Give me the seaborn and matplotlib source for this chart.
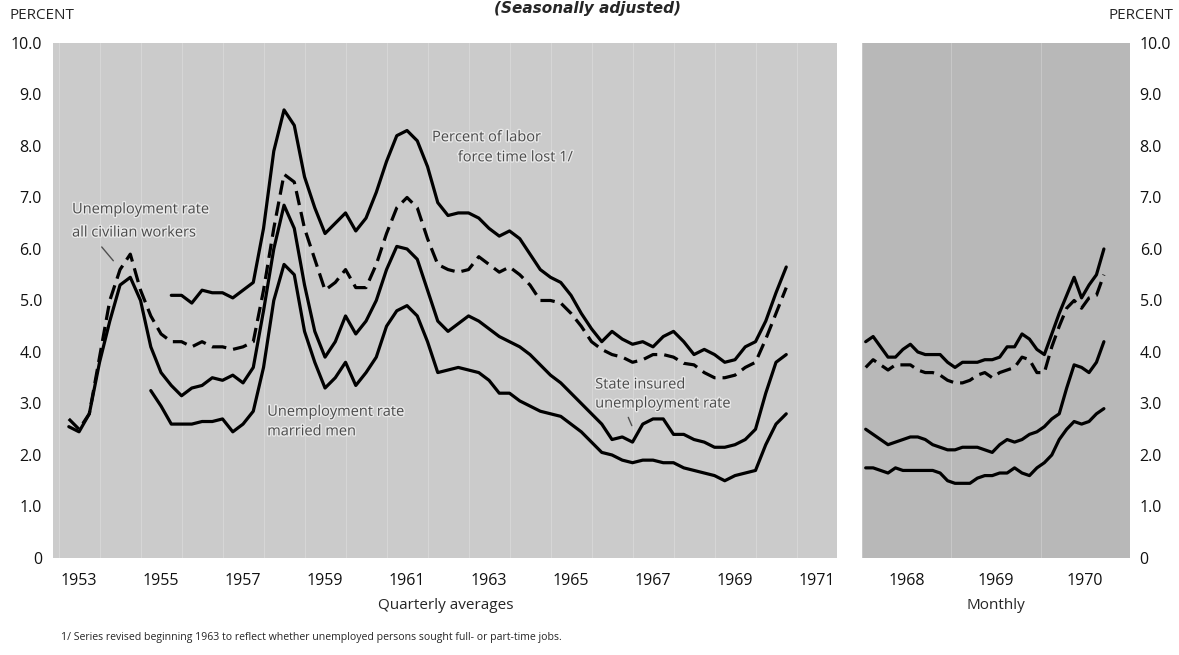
import numpy as np
import pandas as pd
import matplotlib
matplotlib.use('Agg')
import matplotlib.pyplot as plt
import matplotlib.patheffects as pe
from matplotlib.ticker import FixedLocator, MultipleLocator
import seaborn as sns

# ------------------------------------------------------------
# DATA  (percent, seasonally adjusted)
# ------------------------------------------------------------
# quarterly averages, 1953 Q1 .. 1970 Q3
q_start_year = 1953
civilian_q = [2.7, 2.5, 2.8, 3.9, 5.0, 5.6, 5.9, 5.2, 4.7, 4.35,
              4.2, 4.2, 4.1, 4.2, 4.1, 4.1, 4.05, 4.1, 4.2, 5.2,
              6.4, 7.45, 7.3, 6.4, 5.8, 5.2, 5.35, 5.6, 5.25, 5.25,
              5.7, 6.3, 6.8, 7.0, 6.8, 6.2, 5.7, 5.6, 5.55, 5.6,
              5.85, 5.7, 5.55, 5.65, 5.5, 5.3, 5.0, 5.0, 4.95, 4.75,
              4.5, 4.2, 4.05, 3.95, 3.9, 3.8, 3.85, 3.95, 3.95, 3.9,
              3.78, 3.75, 3.6, 3.5, 3.5, 3.55, 3.7, 3.8, 4.25, 4.75,
              5.25]
# labor force time lost starts 1955 Q3 (quarter index 10)
labor_lost_first_q = 10
labor_lost_q = [5.1, 5.1, 4.95, 5.2, 5.15, 5.15, 5.05, 5.2, 5.35, 6.4,
                7.9, 8.7, 8.4, 7.4, 6.8, 6.3, 6.5, 6.7, 6.35, 6.6,
                7.1, 7.7, 8.2, 8.3, 8.1, 7.6, 6.9, 6.65, 6.7, 6.7,
                6.6, 6.4, 6.25, 6.35, 6.2, 5.9, 5.6, 5.45, 5.35, 5.1,
                4.75, 4.45, 4.2, 4.4, 4.25, 4.15, 4.2, 4.1, 4.3, 4.4,
                4.2, 3.95, 4.05, 3.95, 3.8, 3.85, 4.1, 4.2, 4.6, 5.15,
                5.65]
state_insured_q = [2.55, 2.45, 2.8, 3.8, 4.6, 5.3, 5.45, 5.0, 4.1, 3.6,
                   3.35, 3.15, 3.3, 3.35, 3.5, 3.45, 3.55, 3.4, 3.7, 4.8,
                   6.0, 6.85, 6.4, 5.3, 4.4, 3.9, 4.2, 4.7, 4.35, 4.6,
                   5.0, 5.6, 6.05, 6.0, 5.8, 5.2, 4.6, 4.4, 4.55, 4.7,
                   4.6, 4.45, 4.3, 4.2, 4.1, 3.95, 3.75, 3.55, 3.4, 3.2,
                   3.0, 2.8, 2.6, 2.3, 2.35, 2.25, 2.6, 2.7, 2.7, 2.4,
                   2.4, 2.3, 2.25, 2.15, 2.15, 2.2, 2.3, 2.5, 3.2, 3.8,
                   3.95]
# married men starts 1955 Q1 (quarter index 8)
married_first_q = 8
married_q = [3.25, 2.95, 2.6, 2.6, 2.6, 2.65, 2.65, 2.7, 2.45, 2.6,
             2.85, 3.7, 5.0, 5.7, 5.5, 4.4, 3.8, 3.3, 3.5, 3.8,
             3.35, 3.6, 3.9, 4.5, 4.8, 4.9, 4.7, 4.2, 3.6, 3.65,
             3.7, 3.65, 3.6, 3.45, 3.2, 3.2, 3.05, 2.95, 2.85, 2.8,
             2.75, 2.6, 2.45, 2.25, 2.05, 2.0, 1.9, 1.85, 1.9, 1.9,
             1.85, 1.85, 1.75, 1.7, 1.65, 1.6, 1.5, 1.6, 1.65, 1.7,
             2.2, 2.6, 2.8]

# monthly, Jan 1968 .. Sep 1970
m_start_year = 1968
labor_lost_m = [4.2, 4.3, 4.1, 3.9, 3.9, 4.05, 4.15, 4.0, 3.95, 3.95,
                3.95, 3.8, 3.7, 3.8, 3.8, 3.8, 3.85, 3.85, 3.9, 4.1,
                4.1, 4.35, 4.25, 4.05, 3.95, 4.35, 4.75, 5.1, 5.45, 5.05,
                5.3, 5.5, 6.0]
civilian_m = [3.7, 3.85, 3.75, 3.65, 3.75, 3.75, 3.75, 3.65, 3.6, 3.6,
              3.55, 3.45, 3.4, 3.4, 3.45, 3.55, 3.6, 3.5, 3.6, 3.65,
              3.7, 3.9, 3.85, 3.6, 3.6, 4.1, 4.5, 4.85, 5.0, 4.85,
              5.05, 5.1, 5.5]
state_insured_m = [2.5, 2.4, 2.3, 2.2, 2.25, 2.3, 2.35, 2.35, 2.3, 2.2,
                   2.15, 2.1, 2.1, 2.15, 2.15, 2.15, 2.1, 2.05, 2.2, 2.3,
                   2.25, 2.3, 2.4, 2.45, 2.55, 2.7, 2.8, 3.3, 3.75, 3.7,
                   3.6, 3.8, 4.2]
married_m = [1.75, 1.75, 1.7, 1.65, 1.75, 1.7, 1.7, 1.7, 1.7, 1.7,
             1.65, 1.5, 1.45, 1.45, 1.45, 1.55, 1.6, 1.6, 1.65, 1.65,
             1.75, 1.65, 1.6, 1.75, 1.85, 2.0, 2.3, 2.5, 2.65, 2.6,
             2.65, 2.8, 2.9]

quarterly_years = [1953, 1955, 1957, 1959, 1961, 1963, 1965, 1967, 1969, 1971]
monthly_years = [1968, 1969, 1970]
y_ticks = [0, 1, 2, 3, 4, 5, 6, 7, 8, 9, 10]
y_labels = ['0', '1.0', '2.0', '3.0', '4.0', '5.0', '6.0', '7.0', '8.0', '9.0', '10.0']


def quarterly(values, first=0):
    # each quarter plotted at its end
    idx = np.arange(first, first + len(values))
    return pd.DataFrame({'t': q_start_year + (idx + 1) / 4.0, 'v': values})


def monthly(values):
    idx = np.arange(len(values))
    return pd.DataFrame({'t': m_start_year + (idx + 0.5) / 12.0, 'v': values})


# ------------------------------------------------------------
# STYLE
# ------------------------------------------------------------
sns.set_theme(style='white')
plt.rcParams['font.family'] = ['Open Sans', 'DejaVu Sans']

fig = plt.figure(figsize=(11.79, 6.55), dpi=100)
axq = fig.add_axes([0.045, 0.1481, 0.665, 0.7863])
axm = fig.add_axes([0.7311, 0.1481, 0.2273, 0.7863])

solid = dict(color='black', linewidth=2.3)
dashed = dict(color='black', linewidth=2.3, linestyle=(0, (4.5, 2.2)))

# quarterly panel
sns.lineplot(data=quarterly(labor_lost_q, labor_lost_first_q), x='t', y='v', ax=axq, **solid)
sns.lineplot(data=quarterly(civilian_q), x='t', y='v', ax=axq, **dashed)
sns.lineplot(data=quarterly(state_insured_q), x='t', y='v', ax=axq, **solid)
sns.lineplot(data=quarterly(married_q, married_first_q), x='t', y='v', ax=axq, **solid)

# monthly panel
sns.lineplot(data=monthly(labor_lost_m), x='t', y='v', ax=axm, **solid)
sns.lineplot(data=monthly(civilian_m), x='t', y='v', ax=axm, **dashed)
sns.lineplot(data=monthly(state_insured_m), x='t', y='v', ax=axm, **solid)
sns.lineplot(data=monthly(married_m), x='t', y='v', ax=axm, **solid)

tick_font = dict(fontsize=11.5, color='#111111')

for ax, face in [(axq, '#cbcbcb'), (axm, '#b8b8b8')]:
    ax.set_facecolor(face)
    for s in ax.spines.values():
        s.set_visible(False)
    ax.set_ylim(0, 10)
    ax.set_xlabel('')
    ax.set_ylabel('')
    ax.yaxis.set_major_locator(FixedLocator(y_ticks))
    ax.set_yticklabels(y_labels, **tick_font)
    ax.xaxis.set_minor_locator(MultipleLocator(1))
    ax.grid(which='minor', axis='x', color='white', linewidth=0.8, alpha=0.22)
    ax.grid(which='major', axis='y', visible=False)
    ax.tick_params(length=0, which='both')

axq.set_xlim(1952.866, 1971.99)
axq.set_xticks([y + 0.5 for y in quarterly_years])
axq.set_xticklabels([str(y) for y in quarterly_years], **tick_font)
axq.tick_params(axis='x', pad=11)
axq.tick_params(axis='y', pad=8)

axm.set_xlim(1968.0, 1971.0)
axm.set_xticks([y + 0.5 for y in monthly_years])
axm.set_xticklabels([str(y) for y in monthly_years], **tick_font)
axm.tick_params(axis='x', pad=11)
axm.yaxis.tick_right()
axm.tick_params(axis='y', pad=7)

# in-chart labels (halftone look)
lab = dict(fontsize=10.5, color='#4a4a4a', ha='left', va='center',
           path_effects=[pe.withStroke(linewidth=2, foreground='#e8e8e8')])
axq.text(1953.33, 6.76, 'Unemployment rate', **lab)
axq.text(1953.33, 6.31, 'all civilian workers', **lab)
axq.annotate('', xy=(1954.38, 5.73), xytext=(1954.01, 6.08),
             arrowprops=dict(arrowstyle='-', color='#505050', lw=1))
axq.text(1962.11, 8.16, 'Percent of labor', **lab)
axq.text(1962.74, 7.77, 'force time lost 1/', **lab)
axq.text(1966.09, 3.36, 'State insured', **lab)
axq.text(1966.09, 2.99, 'unemployment rate', **lab)
axq.annotate('', xy=(1967.01, 2.52), xytext=(1966.87, 2.78),
             arrowprops=dict(arrowstyle='-', color='#505050', lw=1))
axq.text(1958.09, 2.83, 'Unemployment rate', **lab)
axq.text(1958.09, 2.45, 'married men', **lab)

# outside texts
fig.text(0.008, 0.977, 'PERCENT', fontsize=11, ha='left', va='center')
fig.text(0.995, 0.977, 'PERCENT', fontsize=11, ha='right', va='center')
fig.text(0.498, 0.999, '(Seasonally adjusted)', fontsize=11, fontweight='bold',
         fontstyle='italic', ha='center', va='top', family='DejaVu Sans')
fig.text(0.378, 0.076, 'Quarterly averages', fontsize=11, ha='center', va='center')
fig.text(0.845, 0.076, 'Monthly', fontsize=11, ha='center', va='center')
fig.text(0.052, 0.026,
         '1/ Series revised beginning 1963 to reflect whether unemployed persons sought full- or part-time jobs.',
         fontsize=7.6, ha='left', va='center')

plt.savefig('out.png', dpi=100)
